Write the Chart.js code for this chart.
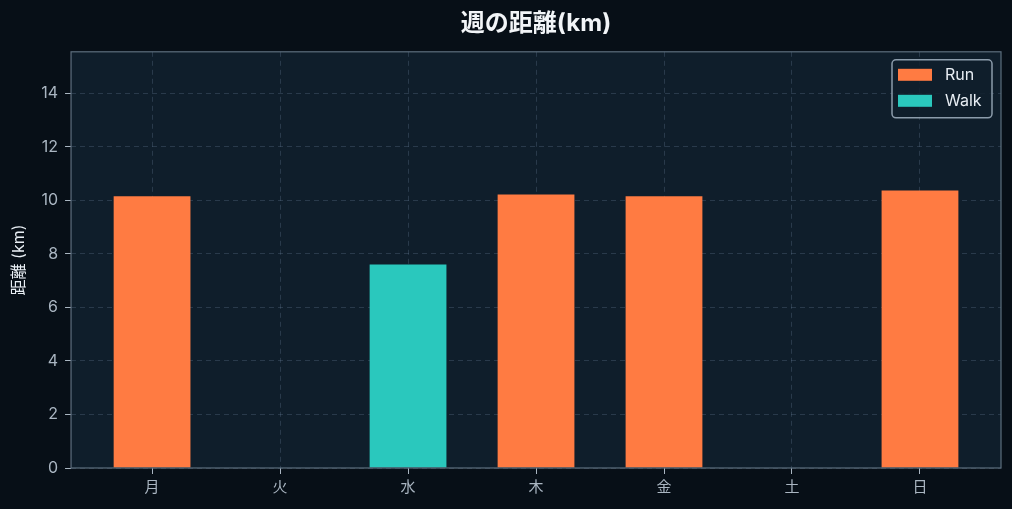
<!DOCTYPE html>
<html>
<head>
<meta charset="utf-8">
<script src="https://cdn.jsdelivr.net/npm/chart.js@4.4.1/dist/chart.umd.min.js"></script>
<style>
  html, body { margin: 0; padding: 0; background: #070f17; }
  #wrap { width: 1012px; height: 509px; }
</style>
</head>
<body>
<div id="wrap"><canvas id="weekChart"></canvas></div>
<script>
const days = ['月', '火', '水', '木', '金', '土', '日']
const runKm = [10.15, null, null, 10.22, 10.15, null, 10.37]
const walkKm = [null, null, 7.6, null, null, null, null]
const yTicks = [0, 2, 4, 6, 8, 10, 12, 14]

const FONT = "Inter, 'Noto Sans CJK JP', sans-serif"
const gridColor = 'rgba(120, 145, 170, 0.25)'
const tickColor = '#aab6c2'

function toPoints(arr) {
    return arr.map((v, i) => ({ x: i, y: v })).filter(p => p.y !== null)
}

// plot background + frame, title centred over the plot area
const frame = {
    id: 'frame',
    afterLayout(chart) {
        const t = chart.titleBlock
        if (t) {
            t.left = chart.chartArea.left
            t.right = chart.chartArea.right
            t.width = t.right - t.left
        }
    },
    beforeDraw(chart) {
        const { ctx, chartArea: a } = chart
        ctx.save()
        ctx.fillStyle = '#0f1e2b'
        ctx.fillRect(a.left, a.top, a.right - a.left, a.bottom - a.top)
        ctx.restore()
    },
    afterDraw(chart) {
        const { ctx, chartArea: a } = chart
        ctx.save()
        ctx.strokeStyle = '#5d6e7e'
        ctx.lineWidth = 1.2
        ctx.strokeRect(a.left, a.top, a.right - a.left, a.bottom - a.top)
        ctx.restore()
    }
}

// legend drawn inside the plot, top right
const innerLegend = {
    id: 'innerLegend',
    afterDraw(chart) {
        const { ctx, chartArea: a } = chart
        const sets = chart.data.datasets
        const w = 100, h = 58
        const x = a.right - 9 - w, y = a.top + 8
        ctx.save()
        ctx.fillStyle = 'rgba(15, 30, 43, 0.85)'
        ctx.strokeStyle = '#8c9cab'
        ctx.lineWidth = 1.5
        ctx.beginPath()
        ctx.roundRect(x, y, w, h, 4)
        ctx.fill()
        ctx.stroke()
        ctx.font = '16px ' + FONT
        ctx.textBaseline = 'middle'
        sets.forEach((ds, i) => {
            const cy = y + 15 + i * 26
            ctx.fillStyle = ds.backgroundColor
            ctx.fillRect(x + 6, cy - 6, 34, 12)
            ctx.fillStyle = '#e8eef4'
            ctx.fillText(ds.label, x + 53, cy)
        })
        ctx.restore()
    }
}

const canvas = document.getElementById('weekChart').getContext('2d')
const chart = new Chart(canvas, {
    type: 'bar',
    data: {
        datasets: [
            { label: 'Run', data: toPoints(runKm), backgroundColor: '#ff7b42' },
            { label: 'Walk', data: toPoints(walkKm), backgroundColor: '#2ac8bd' }
        ]
    },
    plugins: [frame, innerLegend],
    options: {
        responsive: true,
        maintainAspectRatio: false,
        animation: false,
        layout: { padding: { left: 4, right: 11, top: 0, bottom: 9 } },
        datasets: {
            bar: { grouped: false, barPercentage: 0.6, categoryPercentage: 1 }
        },
        plugins: {
            legend: { display: false },
            tooltip: { enabled: false },
            title: {
                display: true,
                text: '週の距離(km)',
                color: '#f2f5f8',
                font: { family: FONT, size: 24, weight: 'bold' },
                padding: { top: 9, bottom: 14 }
            }
        },
        scales: {
            x: {
                type: 'linear',
                offset: false,
                min: -0.633,
                max: 6.633,
                z: 1,
                afterBuildTicks(scale) {
                    scale.ticks = days.map((d, i) => ({ value: i }))
                },
                ticks: {
                    color: tickColor,
                    font: { family: FONT, size: 15 },
                    padding: 4,
                    callback: v => days[v]
                },
                grid: {
                    offset: false,
                    color: gridColor,
                    tickColor: '#aab6c2',
                    tickLength: 6
                },
                border: { display: false, dash: [5, 4] }
            },
            y: {
                min: 0,
                max: 15.55,
                z: 1,
                afterBuildTicks(scale) {
                    scale.ticks = yTicks.map(v => ({ value: v }))
                },
                ticks: {
                    color: tickColor,
                    font: { family: FONT, size: 16 },
                    padding: 7
                },
                grid: {
                    color: gridColor,
                    tickColor: '#aab6c2',
                    tickLength: 6
                },
                border: { display: false, dash: [5, 4] },
                title: {
                    display: true,
                    text: '距離 (km)',
                    color: '#e8eef4',
                    font: { family: FONT, size: 16 },
                    padding: { top: 6, bottom: 5 }
                }
            }
        }
    }
})
</script>
</body>
</html>
